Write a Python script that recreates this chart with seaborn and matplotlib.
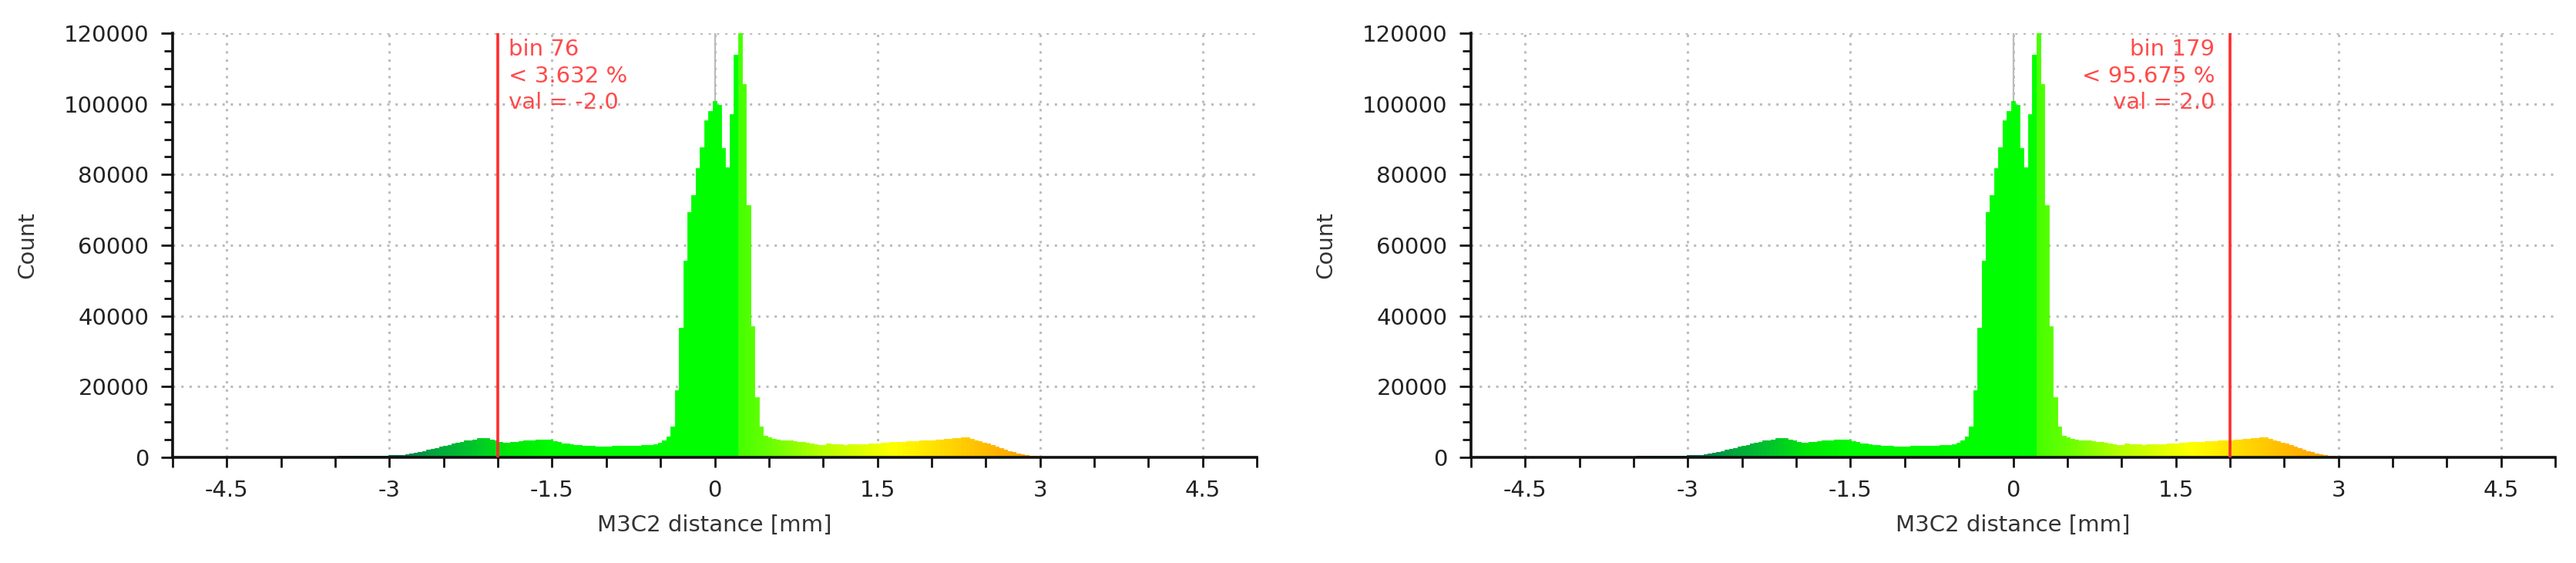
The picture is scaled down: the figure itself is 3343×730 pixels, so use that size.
# IMPORTS
import numpy as np
import pandas as pd
import matplotlib
matplotlib.use("Agg")
import matplotlib.pyplot as plt
from matplotlib.colors import LinearSegmentedColormap, Normalize
from matplotlib.ticker import MultipleLocator
import seaborn as sns

# DATA (histogram counts per bin, 256 bins)
counts_far_left = [40, 45, 50, 50, 55, 60, 60, 65, 70, 75, 80, 80, 85, 90, 95, 100,
                   110, 120, 130, 140, 150, 160, 170, 180, 190, 200]
counts_left_tail = [210, 220, 230, 240, 250, 260, 270, 280, 290, 300, 310, 320, 330,
                    340, 350, 360, 380, 400, 420, 440, 460, 480, 500, 530, 560]
counts_left_bump = [600, 650, 720, 850, 1050, 1300, 1550, 1800, 2100, 2400, 2700, 3000,
                    3300, 3600, 3900, 4200, 4450, 4700, 4900, 5100, 5400, 5500, 5350,
                    5000, 4700]
counts_left_flat = [4400, 4200, 4250, 4350, 4450, 4600, 4700, 4800, 4900, 5000, 5050,
                    5100, 4950, 4650, 4300, 4000, 3850, 3700, 3550, 3450, 3350, 3300,
                    3200, 3150, 3100, 3150, 3100, 3200, 3250, 3200, 3300, 3300, 3350,
                    3300, 3400, 3500, 3600, 3800, 4200, 4800]
counts_peak = [5800, 8800, 19000, 36600, 55700, 69400, 74200, 81900, 87700, 95400,
               98000, 100800, 99700, 87400, 82000, 97000, 114000, 123000, 105600,
               71400, 37000, 17000, 8800, 6200, 5600]
counts_right_flat = [5200, 5000, 4900, 4800, 4700, 4600, 4450, 4300, 4100, 3900, 3700,
                     3500, 3600, 3850, 3800, 3700, 3650, 3600, 3650, 3700, 3750, 3800,
                     3800, 3850, 3900, 4000, 4100, 4200, 4300, 4350, 4400, 4450, 4500,
                     4550, 4650, 4700, 4800, 4850, 4900, 5000]
counts_right_bump = [5100, 5200, 5300, 5400, 5550, 5700, 5600, 5300, 4900, 4600, 4250,
                     3900, 3500, 3100, 2700, 2250, 1800, 1450, 1100, 800, 600, 450, 350,
                     270, 220]
counts_far_right = [200, 190, 180, 170, 160, 155, 150, 145, 140, 135, 130, 125, 120, 115,
                    110, 105, 100, 100, 95, 90, 90, 85, 80, 80, 75, 70, 70, 65, 65, 60,
                    60, 55, 55, 50, 50, 50, 45, 45, 45, 40, 40, 40, 35, 35, 35, 30, 30,
                    30, 30, 25]
counts = np.array(counts_far_left + counts_left_tail + counts_left_bump + counts_left_flat
                  + counts_peak + counts_right_flat + counts_right_bump + counts_far_right)

# bin 76 starts at -2.0, bin 179 starts at 2.0
marker_bins = [76, 179]
marker_values = [-2.0, 2.0]
marker_percent = ["3.632", "95.675"]

x_tick_values = [-4.5, -3, -1.5, 0, 1.5, 3, 4.5]
x_tick_labels = ["-4.5", "-3", "-1.5", "0", "1.5", "3", "4.5"]
y_tick_values = [0, 20000, 40000, 60000, 80000, 100000, 120000]
y_tick_labels = ["0", "20000", "40000", "60000", "80000", "100000", "120000"]

bin_width = (marker_values[1] - marker_values[0]) / (marker_bins[1] - marker_bins[0])
first_edge = marker_values[0] - marker_bins[0] * bin_width
edges = first_edge + bin_width * np.arange(len(counts) + 1)
centers = 0.5 * (edges[:-1] + edges[1:])
hist_df = pd.DataFrame({"distance": centers, "count": counts})

# colour scale (blue > green > yellow > red like the viewer)
scale_nodes = [(-5.0, (0, 0, 255)), (-3.8, (0, 70, 150)), (-3.0, (0, 110, 85)),
               (-2.6, (0, 165, 60)), (-2.2, (0, 200, 40)), (-1.9, (0, 232, 5)),
               (-1.5, (0, 250, 0)), (0.21, (0, 255, 0)), (0.2101, (70, 255, 0)),
               (0.5, (105, 255, 0)), (1.0, (185, 255, 0)), (1.65, (255, 255, 0)),
               (2.2, (255, 210, 0)), (2.8, (255, 165, 0)), (5.0, (255, 60, 0))]
cmap = LinearSegmentedColormap.from_list(
    "sf", [((v + 5) / 10, tuple(c / 255 for c in rgb)) for v, rgb in scale_nodes])
norm = Normalize(-5, 5)

# SETTINGS
sns.set_theme(style="ticks")
plt.rcParams["font.family"] = ["DejaVu Sans"]
FS = 21
GRID = "#bcbcbc"
RED_LINE = "#ff2b2b"
RED_TEXT = "#ff4a4a"

fig = plt.figure(figsize=(33.43, 7.30), dpi=100)
axes = [fig.add_axes([224 / 3343, 137 / 730, 1407 / 3343, 550 / 730]),
        fig.add_axes([1909 / 3343, 137 / 730, 1407 / 3343, 550 / 730])]


def draw_panel(ax, idx):
    sns.histplot(data=hist_df, x="distance", weights="count", bins=list(edges), ax=ax,
                 stat="count", element="bars", alpha=1, linewidth=0, zorder=2)
    for patch, c in zip(ax.patches, centers):
        col = cmap(norm(c))
        patch.set_facecolor(col)
        patch.set_edgecolor(col)
        patch.set_linewidth(0.6)

    ax.set_xlim(-5, 5)
    ax.set_ylim(0, 120000)

    # grid: dotted, solid grey line at zero
    ax.set_axisbelow(True)
    ax.grid(axis="both", which="major", linestyle=(0, (1, 2.5)), color=GRID, linewidth=2.2)
    ax.axvline(0, color=GRID, linewidth=1.6, zorder=1)

    ax.set_xticks(x_tick_values, x_tick_labels)
    ax.xaxis.set_minor_locator(MultipleLocator(0.5))
    ax.set_yticks(y_tick_values, y_tick_labels)
    ax.yaxis.set_minor_locator(MultipleLocator(5000))
    ax.tick_params(axis="both", which="both", direction="out", color="#111111",
                   width=2, labelsize=FS, labelcolor="#222222")
    ax.tick_params(axis="x", which="both", length=9, pad=12)
    ax.tick_params(axis="y", which="major", length=11, pad=11)
    ax.tick_params(axis="y", which="minor", length=8)

    sns.despine(ax=ax)
    for side in ["left", "bottom"]:
        ax.spines[side].set_linewidth(2.6)
        ax.spines[side].set_color("#111111")

    ax.set_xlabel("M3C2 distance [mm]", fontsize=FS, color="#333333", labelpad=12)
    ax.set_ylabel("Count", fontsize=FS, color="#333333", labelpad=24)

    # percentile marker
    val = marker_values[idx]
    ax.axvline(val, color=RED_LINE, linewidth=2.6, zorder=3)
    label = "bin %d\n< %s %%\nval = %.1f" % (marker_bins[idx], marker_percent[idx], val)
    if idx == 0:
        ax.annotate(label, xy=(val, 120000), xytext=(10, -5), textcoords="offset points",
                    ha="left", va="top", color=RED_TEXT, fontsize=FS, linespacing=1.3)
    else:
        ax.annotate(label, xy=(val, 120000), xytext=(-14, -5), textcoords="offset points",
                    ha="right", va="top", color=RED_TEXT, fontsize=FS, linespacing=1.3)


for i, ax in enumerate(axes):
    draw_panel(ax, i)

fig.savefig("out.png", dpi=100, facecolor="white")
